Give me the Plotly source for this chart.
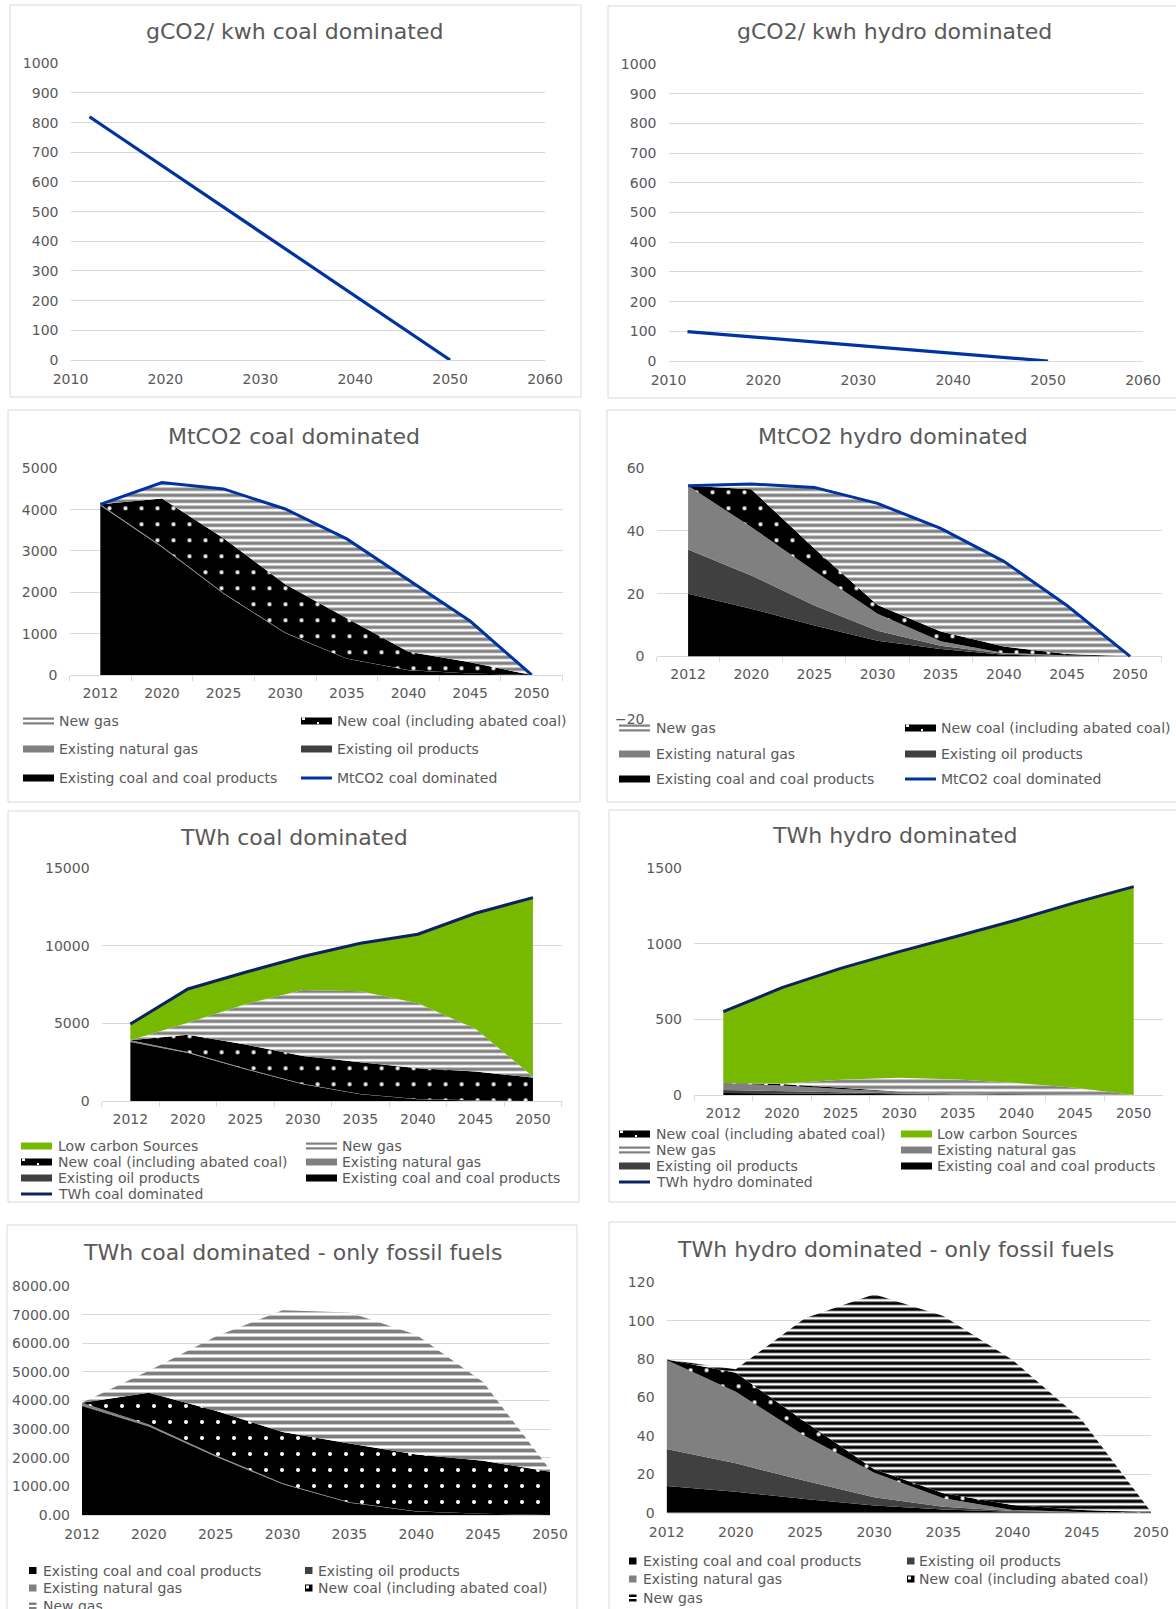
import plotly.graph_objects as go

W, H = 1176, 1609
FONT = "DejaVu Sans"
TEXT = "#595959"
GRID = "#d9d9d9"
BLUE = "#0033a0"
NAVY = "#0e2260"
GREEN = "#76b900"
COAL = "#000000"
OIL = "#404040"
GAS = "#808080"
STRIPE = "#7f7f7f"

YEARS = [2012, 2020, 2025, 2030, 2035, 2040, 2045, 2050]
YEAR_LABELS = ["2012", "2020", "2025", "2030", "2035", "2040", "2045", "2050"]

# Emission intensity of generation (gCO2/kWh)
gco2_coal_dominated = [820, 648, 540, 432, 324, 216, 108, 0]
gco2_hydro_dominated = [99, 78, 65, 52, 39, 26, 13, 0]

# Emissions by source, coal dominated system (MtCO2)
mt_coal_existing_coal = [4100, 3090, 1965, 1015, 395, 115, 35, 0]
mt_coal_existing_oil = [8, 6, 4, 3, 2, 1, 0, 0]
mt_coal_existing_gas = [20, 16, 12, 8, 5, 3, 1, 0]
mt_coal_new_coal = [0, 1160, 1325, 1170, 970, 445, 270, 0]
mt_coal_new_gas = [0, 385, 1195, 1820, 1920, 1735, 1000, 0]
mt_coal_total = [4128, 4657, 4501, 4016, 3292, 2299, 1306, 0]

# Emissions by source, hydro dominated system (MtCO2)
mt_hydro_existing_coal = [20.0, 15.2, 9.8, 5.0, 2.3, 0.5, 0.1, 0]
mt_hydro_existing_oil = [14.1, 10.6, 6.4, 3.2, 1.1, 0.3, 0.1, 0]
mt_hydro_existing_gas = [20.3, 15.5, 11.0, 5.4, 1.4, 0.3, 0.1, 0]
mt_hydro_new_coal = [0, 12.0, 7.2, 2.8, 3.1, 2.0, 0.45, 0]
mt_hydro_new_gas = [0, 1.7, 19.5, 32.4, 32.9, 27.2, 15.45, 0]
mt_hydro_total = [54.4, 55.0, 53.9, 48.8, 40.8, 30.3, 16.2, 0]

# Generation by source, coal dominated system (TWh)
twh_coal_existing_coal = [3810, 3090, 2040, 1080, 430, 120, 40, 0]
twh_coal_existing_oil = [25, 15, 10, 5, 3, 1, 0, 0]
twh_coal_existing_gas = [85, 55, 40, 25, 15, 8, 3, 0]
twh_coal_new_coal = [0, 1110, 1550, 1790, 2052, 1981, 1852, 1510]
twh_coal_new_gas = [0, 770, 2600, 4250, 4575, 4190, 2755, 70]
twh_coal_low_carbon = [1040, 2180, 2060, 2160, 3095, 4450, 7450, 11530]
twh_coal_total = [4960, 7220, 8300, 9310, 10170, 10750, 12100, 13110]

# Generation by source, hydro dominated system (TWh)
twh_hydro_existing_coal = [13.9, 10.9, 7.1, 3.8, 1.7, 0.5, 0.1, 0]
twh_hydro_existing_oil = [19.3, 14.8, 9.6, 4.2, 1.4, 0.4, 0.1, 0]
twh_hydro_existing_gas = [46.3, 37.3, 23.3, 12.8, 4.4, 0.5, 0.1, 0]
twh_hydro_new_coal = [0.3, 9.9, 7.4, 1.8, 2.6, 2.6, 1.1, 0.3]
twh_hydro_new_gas = [0, 1.8, 53.9, 91.2, 92.4, 75.5, 46.9, 0.2]
twh_hydro_low_carbon = [471.2, 635.3, 736.7, 835.2, 949.5, 1078.5, 1224.7, 1378.5]
twh_hydro_total = [551, 710, 838, 949, 1052, 1158, 1273, 1379]


def X(p):
    return p / W


def Y(p):
    return 1 - p / H


TICK_FONT = dict(family=FONT, size=14, color=TEXT)

# plot boxes in pixels: (left, right, top, bottom)
BOX = {
    1: (70.5, 545, 63.3, 360),
    2: (668.5, 1143, 64, 361),
    3: (69.5, 562.5, 468.3, 675),
    4: (656.5, 1161.7, 468.3, 719),
    5: (101.6, 561.7, 868.3, 1101),
    6: (694, 1163, 868.3, 1095),
    7: (82, 550, 1286, 1515),
    8: (666.6, 1151, 1282.3, 1512.7),
}

# panel frames (left, top, right, bottom)
FRAMES = [
    (10, 5, 581, 397), (608, 6, 1180, 398),
    (8, 410, 580, 802), (607, 410, 1180, 802),
    (8, 811, 579, 1202), (609, 810, 1180, 1202),
    (7, 1225, 577, 1640), (609, 1222, 1180, 1640),
]

TITLES = [
    ("gCO2/ kwh coal dominated", 295, 32),
    ("gCO2/ kwh hydro dominated", 894, 32),
    ("MtCO2 coal dominated", 294, 437),
    ("MtCO2 hydro dominated", 893, 437),
    ("TWh coal dominated", 294, 837),
    ("TWh hydro dominated", 895, 835),
    ("TWh coal dominated - only fossil fuels", 292, 1252),
    ("TWh hydro dominated - only fossil fuels", 895, 1249),
]


def xaxis_cfg(i, **kw):
    b = BOX[i]
    d = dict(domain=[X(b[0]), X(b[1])], anchor="y" + ("" if i == 1 else str(i)),
             showgrid=False, zeroline=False, showline=True, linecolor=GRID,
             linewidth=1, layer="below traces", tickfont=TICK_FONT, fixedrange=True,
             automargin=False)
    d.update(kw)
    return d


def yaxis_cfg(i, rng, dtick, **kw):
    b = BOX[i]
    d = dict(domain=[Y(b[3]), Y(b[2])], anchor="x" + ("" if i == 1 else str(i)),
             range=rng, dtick=dtick, showgrid=True, gridcolor=GRID, gridwidth=1,
             zeroline=True, zerolinecolor=GRID, zerolinewidth=1, showline=False,
             ticks="", tickfont=TICK_FONT, ticklabelstandoff=11, fixedrange=True,
             layer="below traces", tickformat="d", automargin=False)
    d.update(kw)
    return d


CAT_X = dict(type="category", categoryorder="array", categoryarray=YEAR_LABELS,
             range=[-0.5, 7.5], ticks="outside", tickson="boundaries", ticklen=5,
             tickcolor=GRID, tickwidth=1, ticklabelstandoff=5)
EDGE_X = dict(type="category", categoryorder="array", categoryarray=YEAR_LABELS,
              range=[0, 7], ticks="", ticklabelstandoff=6)

layout = dict(
    width=W, height=H, autosize=False,
    margin=dict(l=0, r=0, t=0, b=0, pad=0, autoexpand=False),
    paper_bgcolor="white", plot_bgcolor="rgba(0,0,0,0)",
    showlegend=False, font=dict(family=FONT, color=TEXT),
)
layout["xaxis"] = xaxis_cfg(1, type="linear", range=[2010, 2060], dtick=10, tick0=2010,
                            ticks="", ticklabelstandoff=6)
layout["yaxis"] = yaxis_cfg(1, [0, 1000], 100)
layout["xaxis2"] = xaxis_cfg(2, type="linear", range=[2010, 2060], dtick=10, tick0=2010,
                             ticks="", ticklabelstandoff=6)
layout["yaxis2"] = yaxis_cfg(2, [0, 1000], 100)
layout["xaxis3"] = xaxis_cfg(3, **CAT_X)
layout["yaxis3"] = yaxis_cfg(3, [0, 5000], 1000)
layout["xaxis4"] = xaxis_cfg(4, **CAT_X)
layout["xaxis4"].update(anchor="free", position=Y(655.7))
layout["yaxis4"] = yaxis_cfg(4, [-20, 60], 20)
layout["xaxis5"] = xaxis_cfg(5, **CAT_X)
layout["yaxis5"] = yaxis_cfg(5, [0, 15000], 5000)
layout["xaxis6"] = xaxis_cfg(6, **CAT_X)
layout["yaxis6"] = yaxis_cfg(6, [0, 1500], 500)
layout["xaxis7"] = xaxis_cfg(7, **EDGE_X)
layout["yaxis7"] = yaxis_cfg(7, [0, 8000], 1000, tickformat=".2f")
layout["xaxis8"] = xaxis_cfg(8, **EDGE_X)
layout["yaxis8"] = yaxis_cfg(8, [0, 120], 20)

fig = go.Figure(layout=layout)


def axes(i):
    return ("x" if i == 1 else "x%d" % i), ("y" if i == 1 else "y%d" % i)


def solid(color):
    return dict(fillcolor=color)


def stripes(color, size=6, solidity=0.55):
    return dict(fillcolor="white",
                fillpattern=dict(shape="-", fgcolor=color, bgcolor="white",
                                 size=size, solidity=solidity, fillmode="replace"))


def dots(size=16, solidity=0.05):
    return dict(fillcolor=COAL,
                fillpattern=dict(shape=".", fgcolor="white", bgcolor=COAL,
                                 size=size, solidity=solidity, fillmode="replace"))


def add_stack(i, xs, layers):
    xa, ya = axes(i)
    for name, vals, style in layers:
        fig.add_trace(go.Scatter(x=xs, y=vals, name=name, mode="lines",
                                 line=dict(width=0), stackgroup="s%d" % i,
                                 xaxis=xa, yaxis=ya, hoverinfo="skip", **style))


def add_line(i, xs, vals, color, name, width=3):
    xa, ya = axes(i)
    fig.add_trace(go.Scatter(x=xs, y=vals, name=name, mode="lines",
                             line=dict(color=color, width=width),
                             xaxis=xa, yaxis=ya, hoverinfo="skip"))


# intensity panels
add_line(1, YEARS, gco2_coal_dominated, BLUE, "gCO2/ kwh coal dominated", 3.2)
add_line(2, YEARS, gco2_hydro_dominated, BLUE, "gCO2/ kwh hydro dominated", 3.2)

# emissions panels
add_stack(3, YEAR_LABELS, [
    ("Existing coal and coal products", mt_coal_existing_coal, solid(COAL)),
    ("Existing oil products", mt_coal_existing_oil, solid(OIL)),
    ("Existing natural gas", mt_coal_existing_gas, solid(GAS)),
    ("New coal (including abated coal)", mt_coal_new_coal, dots()),
    ("New gas", mt_coal_new_gas, stripes(STRIPE)),
])
add_line(3, YEAR_LABELS, mt_coal_total, BLUE, "MtCO2 coal dominated")

add_stack(4, YEAR_LABELS, [
    ("Existing coal and coal products", mt_hydro_existing_coal, solid(COAL)),
    ("Existing oil products", mt_hydro_existing_oil, solid(OIL)),
    ("Existing natural gas", mt_hydro_existing_gas, solid(GAS)),
    ("New coal (including abated coal)", mt_hydro_new_coal, dots()),
    ("New gas", mt_hydro_new_gas, stripes(STRIPE)),
])
add_line(4, YEAR_LABELS, mt_hydro_total, BLUE, "MtCO2 coal dominated")

# generation panels
add_stack(5, YEAR_LABELS, [
    ("Existing coal and coal products", twh_coal_existing_coal, solid(COAL)),
    ("Existing oil products", twh_coal_existing_oil, solid(OIL)),
    ("Existing natural gas", twh_coal_existing_gas, solid(GAS)),
    ("New coal (including abated coal)", twh_coal_new_coal, dots()),
    ("New gas", twh_coal_new_gas, stripes(STRIPE)),
    ("Low carbon Sources", twh_coal_low_carbon, solid(GREEN)),
])
add_line(5, YEAR_LABELS, twh_coal_total, NAVY, "TWh coal dominated")

add_stack(6, YEAR_LABELS, [
    ("Existing coal and coal products", twh_hydro_existing_coal, solid(COAL)),
    ("Existing oil products", twh_hydro_existing_oil, solid(OIL)),
    ("Existing natural gas", twh_hydro_existing_gas, solid(GAS)),
    ("New coal (including abated coal)", twh_hydro_new_coal, dots()),
    ("New gas", twh_hydro_new_gas, stripes(STRIPE)),
    ("Low carbon Sources", twh_hydro_low_carbon, solid(GREEN)),
])
add_line(6, YEAR_LABELS, twh_hydro_total, NAVY, "TWh hydro dominated")

# fossil-only generation panels
add_stack(7, YEAR_LABELS, [
    ("Existing coal and coal products", twh_coal_existing_coal, solid(COAL)),
    ("Existing oil products", twh_coal_existing_oil, solid(OIL)),
    ("Existing natural gas", twh_coal_existing_gas, solid(GAS)),
    ("New coal (including abated coal)", twh_coal_new_coal, dots()),
    ("New gas", twh_coal_new_gas, stripes(STRIPE, size=7)),
])
add_stack(8, YEAR_LABELS, [
    ("Existing coal and coal products", twh_hydro_existing_coal, solid(COAL)),
    ("Existing oil products", twh_hydro_existing_oil, solid(OIL)),
    ("Existing natural gas", twh_hydro_existing_gas, solid(GAS)),
    ("New coal (including abated coal)", twh_hydro_new_coal, dots()),
    ("New gas", twh_hydro_new_gas, stripes(COAL, size=6)),
])

shapes = []
annotations = []


def rect(x0, y0, x1, y1, fill, layer="above", line=None):
    shapes.append(dict(type="rect", xref="paper", yref="paper",
                       x0=X(x0), x1=X(x1), y0=Y(y1), y1=Y(y0),
                       fillcolor=fill, layer=layer,
                       line=line if line else dict(width=0)))


for (l, t, r, b) in FRAMES:
    rect(l, t, r, b, "rgba(0,0,0,0)", layer="below", line=dict(color=GRID, width=1))

for text, cx, cy in TITLES:
    annotations.append(dict(text=text, x=X(cx), y=Y(cy), xref="paper", yref="paper",
                            xanchor="center", yanchor="middle", showarrow=False,
                            font=dict(family=FONT, size=22, color=TEXT)))


def label(text, x, cy):
    annotations.append(dict(text=text, x=X(x), y=Y(cy), xref="paper", yref="paper",
                            xanchor="left", yanchor="middle", showarrow=False,
                            font=dict(family=FONT, size=14, color=TEXT)))


SW = 31


def sw_solid(x0, cy, color):
    rect(x0, cy - 3.5, x0 + SW, cy + 3.5, color)


def sw_stripes(x0, cy, color):
    rect(x0, cy - 3.5, x0 + SW, cy - 1.3, color)
    rect(x0, cy + 1.3, x0 + SW, cy + 3.5, color)


def sw_dots(x0, cy):
    rect(x0, cy - 3.5, x0 + SW, cy + 3.5, COAL)
    rect(x0 + 1, cy - 3.5, x0 + 4, cy - 1, "white")
    rect(x0 + 16, cy + 1, x0 + 18, cy + 3, "white")


def sw_line(x0, cy, color):
    rect(x0, cy - 1.5, x0 + SW, cy + 1.5, color)


def draw_item(kind, x0, tx, cy, text, color=None):
    if kind == "solid":
        sw_solid(x0, cy, color)
    elif kind == "stripes":
        sw_stripes(x0, cy, color)
    elif kind == "dots":
        sw_dots(x0, cy)
    elif kind == "line":
        sw_line(x0, cy, color)
    label(text, tx, cy)


# emissions legends
for (c1, t1, c2, t2, rows, line_name) in [
    (23, 57, 301, 335, [721, 749, 778], "MtCO2 coal dominated"),
    (619, 653.5, 905, 938.6, [728, 754, 779], "MtCO2 coal dominated"),
]:
    draw_item("stripes", c1, t1, rows[0], "New gas", STRIPE)
    draw_item("dots", c2, t2, rows[0], "New coal (including abated coal)")
    draw_item("solid", c1, t1, rows[1], "Existing natural gas", GAS)
    draw_item("solid", c2, t2, rows[1], "Existing oil products", OIL)
    draw_item("solid", c1, t1, rows[2], "Existing coal and coal products", COAL)
    draw_item("line", c2, t2, rows[2], line_name, BLUE)

# generation legend, coal dominated
r = [1146, 1162, 1178, 1194]
draw_item("solid", 21, 55.7, r[0], "Low carbon Sources", GREEN)
draw_item("stripes", 306, 340, r[0], "New gas", STRIPE)
draw_item("dots", 21, 55.7, r[1], "New coal (including abated coal)")
draw_item("solid", 306, 340, r[1], "Existing natural gas", GAS)
draw_item("solid", 21, 55.7, r[2], "Existing oil products", OIL)
draw_item("solid", 306, 340, r[2], "Existing coal and coal products", COAL)
draw_item("line", 21, 55.7, r[3], "TWh coal dominated", NAVY)

# generation legend, hydro dominated
r = [1134, 1150, 1166, 1182]
draw_item("dots", 619, 653.5, r[0], "New coal (including abated coal)")
draw_item("solid", 901, 934.5, r[0], "Low carbon Sources", GREEN)
draw_item("stripes", 619, 653.5, r[1], "New gas", STRIPE)
draw_item("solid", 901, 934.5, r[1], "Existing natural gas", GAS)
draw_item("solid", 619, 653.5, r[2], "Existing oil products", OIL)
draw_item("solid", 901, 934.5, r[2], "Existing coal and coal products", COAL)
draw_item("line", 619, 653.5, r[3], "TWh hydro dominated", NAVY)


# fossil-only legends use small square markers
def mk_solid(x0, cy, color):
    rect(x0, cy - 3.5, x0 + 7.5, cy + 3.5, color)


def mk_dots(x0, cy):
    rect(x0, cy - 3.5, x0 + 7.5, cy + 3.5, COAL)
    rect(x0 + 1, cy - 2.5, x0 + 4, cy + 0.5, "white")


def mk_stripes(x0, cy, color):
    rect(x0, cy - 3.5, x0 + 7.5, cy - 1, color)
    rect(x0, cy + 1, x0 + 7.5, cy + 3.5, color)


for (m1, t1, m2, t2, rows, gas_color) in [
    (29, 40.6, 305, 316, [1570.5, 1588, 1606], STRIPE),
    (629, 640.5, 907, 917, [1561, 1579, 1598], COAL),
]:
    mk_solid(m1, rows[0], COAL)
    label("Existing coal and coal products", t1, rows[0])
    mk_solid(m2, rows[0], OIL)
    label("Existing oil products", t2, rows[0])
    mk_solid(m1, rows[1], GAS)
    label("Existing natural gas", t1, rows[1])
    mk_dots(m2, rows[1])
    label("New coal (including abated coal)", t2, rows[1])
    mk_stripes(m1, rows[2], gas_color)
    label("New gas", t1, rows[2])

fig.update_layout(shapes=shapes, annotations=annotations)

# pin the fixed-size figure to the page corner
PAGE_CSS = ("document.body.style.margin='0';document.body.style.padding='0';"
            "document.body.style.overflow='hidden';")
fig.write_html("out.html", config=dict(displayModeBar=False, staticPlot=True),
               post_script=PAGE_CSS)
